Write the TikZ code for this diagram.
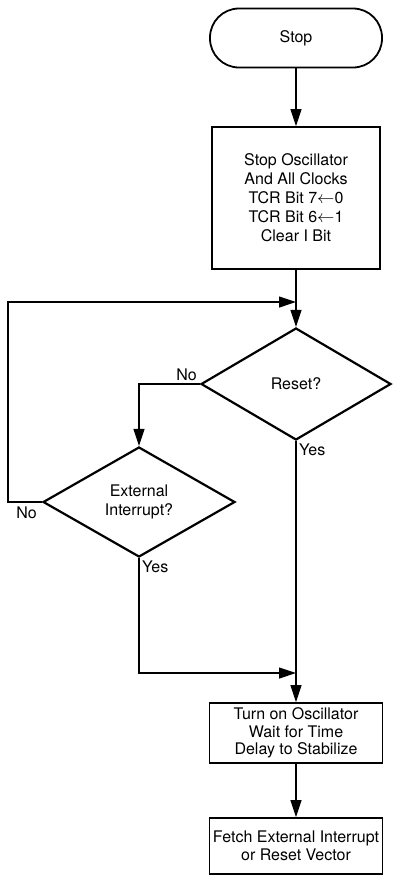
\documentclass[tikz,border=0pt]{standalone}
\usepackage{fontspec}
\setmainfont{TeX Gyre Heros}
\usepackage{tikz}
\usetikzlibrary{shapes.geometric, arrows.meta}
\tikzset{>={Triangle[length=17pt, width=11pt]}}

\begin{document}
\begin{tikzpicture}[x=1pt, y=-1pt, font=\fontsize{16}{19}\selectfont,
    block/.style={draw, line width=1.8pt, align=center, inner sep=0pt},
    decision/.style={draw, diamond, line width=2.2pt, align=center, inner sep=0pt},
    flow/.style={line width=1.2pt},
    tag/.style={inner sep=3pt}]

 \useasboundingbox (0,0) rectangle (392,876);

 % Blocks
 \node[block, rounded corners=29pt, minimum width=172pt, minimum height=59pt] (stop) at (296,38) {Stop};
 \node[block, minimum width=168pt, minimum height=142pt] (halt) at (296,198)
    {Stop Oscillator\\And All Clocks\\TCR Bit 7$\leftarrow$0\\TCR Bit 6$\leftarrow$1\\Clear I Bit};
 \node[decision, minimum width=190pt, minimum height=112pt] (reset) at (296,384) {Reset?};
 \node[decision, minimum width=192pt, minimum height=110pt] (extint) at (139,502) {External\\Interrupt?};
 \node[block, font=\fontsize{16}{17.5}\selectfont, minimum width=173pt, minimum height=60pt] (wake) at (296,733)
    {Turn on Oscillator\\Wait for Time\\Delay to Stabilize};
 \node[block, font=\fontsize{16}{18}\selectfont, minimum width=173pt, minimum height=56pt] (fetch) at (296,846)
    {Fetch External Interrupt\\or Reset Vector};

 % Junctions
 \coordinate (top) at (296,302);
 \coordinate (loop) at (8,302);
 \coordinate (merge) at (296,673);

 % Lines
 \draw[flow, ->] (stop) -- (halt);
 \draw[flow] (halt) -- (top);
 \draw[flow, ->] (top) -- (reset.north);
 \draw[flow, ->] (reset.west) -| (extint.north);
 \draw[flow, ->] (extint.west) -| (loop) -- (top);
 \draw[flow] (reset.south) -- (merge);
 \draw[flow, ->] (extint.south) |- (merge);
 \draw[flow, ->] (merge) -- (wake);
 \draw[flow, ->] (wake) -- (fetch);

 % Labels
 \node[tag, anchor=south east] (resetno) at (reset.west) {No};
 \node[tag, anchor=north east, inner sep=5pt] (extno) at (extint.west) {No};
 \node[tag, anchor=north west] (resetyes) at (reset.south) {Yes};
 \node[tag, anchor=north west] (extyes) at (extint.south) {Yes};

\end{tikzpicture}
\end{document}
